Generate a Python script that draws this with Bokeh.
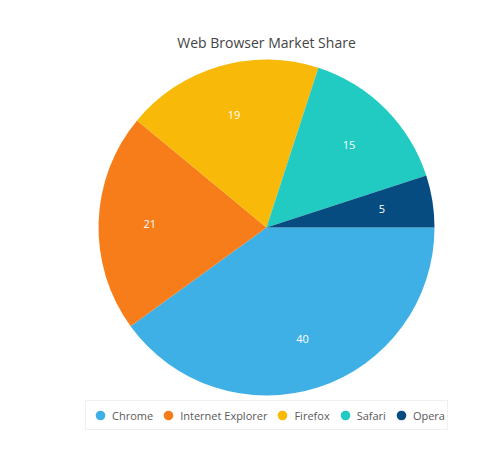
import numpy as np
from bokeh.plotting import figure
from bokeh.models import ColumnDataSource, Range1d, Legend, LegendItem, Label
from bokeh.core.properties import value
from bokeh.embed import file_html
from bokeh.resources import INLINE

browsers = ["Chrome", "Internet Explorer", "Firefox", "Safari", "Opera"]
shares = [40, 21, 19, 15, 5]
colors = ["#3eb0e6", "#f77d1a", "#f9b908", "#21cbc1", "#074c80"]
title_text = "Web Browser Market Share"

W, H = 498, 459
p = figure(width=W, height=H, x_range=Range1d(0, W), y_range=Range1d(0, H),
           output_backend="svg", toolbar_location=None, min_border=0)
p.axis.visible = False
p.grid.visible = False
p.outline_line_color = None
p.background_fill_color = "white"
p.border_fill_color = "white"

cx, cy, r = 266, H - 227, 168
frac = np.array(shares, dtype=float) / sum(shares)
ends = np.cumsum(frac) * 2 * np.pi
starts = ends - frac * 2 * np.pi
mid = -(starts + ends) / 2
lr = 0.695 * r
src = ColumnDataSource(dict(
    start=-starts, end=-ends, color=colors, name=browsers,
    lx=cx + lr * np.cos(mid), ly=cy + lr * np.sin(mid),
    label=[str(s) for s in shares],
))
p.wedge(x=cx, y=cy, radius=r, start_angle="start", end_angle="end",
        direction="clock", fill_color="color", line_color=None, source=src)
p.text(x="lx", y="ly", text="label", source=src, text_color="white",
       text_font=value("Open Sans"), text_font_size="11px",
       text_align="center", text_baseline="middle")

p.add_layout(Label(x=cx, y=H - 42, text=title_text, text_align="center",
                   text_baseline="middle", text_font="Open Sans",
                   text_font_size="14px", text_color="#444444"))

items = []
for b, c in zip(browsers, colors):
    rr = p.scatter(x=[-1000], y=[-1000], marker="circle", size=9,
                   fill_color=c, line_color=None)
    items.append(LegendItem(label=b, renderers=[rr]))
legend = Legend(items=items, orientation="horizontal", location=(85, H - 430),
                glyph_width=24, glyph_height=24, padding=2, spacing=3,
                label_standoff=0, margin=0,
                label_text_font="Open Sans", label_text_font_size="11px",
                label_text_color="#5a5a5a", border_line_color="#e2e2e2",
                border_line_width=1, background_fill_color="white")
p.add_layout(legend, "center")

open("out.html", "w").write(file_html(p, INLINE))
